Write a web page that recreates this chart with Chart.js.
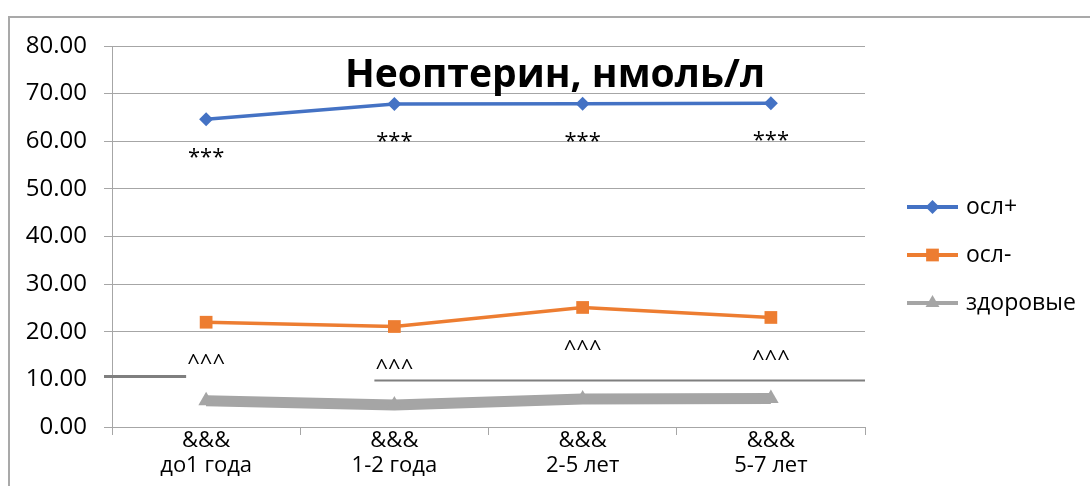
<!DOCTYPE html>
<html>
<head>
<meta charset="utf-8">
<script src="https://cdn.jsdelivr.net/npm/chart.js@4"></script>
<style>
  html, body { margin: 0; padding: 0; background: #fff; overflow: hidden; }
  #wrap { position: relative; width: 1090px; height: 486px; }
  #frame { position: absolute; left: 8px; top: 16px; width: 1100px; height: 500px;
           border: 2px solid #a9a9a9; box-sizing: border-box; }
  canvas { position: absolute; left: 0; top: 0; }
</style>
</head>
<body>
<div id="wrap">
  <div id="frame"></div>
  <canvas id="c" width="1090" height="486"></canvas>
</div>
<script>
// Age groups (two-line axis labels)
const categories = [
  ['&&&', 'до1 года'],
  ['&&&', '1-2 года'],
  ['&&&', '2-5 лет'],
  ['&&&', '5-7 лет']
];

// Series names and values, nmol/l
const seriesNames = ['осл+', 'осл-', 'здоровые'];
const oslPlus  = [64.6, 67.8, 67.9, 68.0];
const oslMinus = [22.0, 21.1, 25.1, 23.0];
const healthy  = [5.5, 4.6, 5.9, 6.0];

// Significance marks placed under the points
const plusMarks  = ['***', '***', '***', '***'];
const minusMarks = ['^^^', '^^^', '^^^', '^^^'];

// Value axis
const yMin = 0, yMax = 80, yStep = 10;

const chartTitle = 'Неоптерин, нмоль/л';

const FONT = '"Open Sans", "Noto Sans", sans-serif';
const colors = ['#4472C4', '#ED7D31', '#A5A5A5'];
const markerStyles = ['rectRot', 'rect', 'triangle'];

function marker(ctx, style, x, y, r, color) {
  ctx.save();
  ctx.fillStyle = color;
  ctx.beginPath();
  if (style === 'rectRot') {
    ctx.moveTo(x - r, y); ctx.lineTo(x, y - r); ctx.lineTo(x + r, y); ctx.lineTo(x, y + r);
  } else if (style === 'rect') {
    const s = r * Math.SQRT1_2;
    ctx.rect(x - s, y - s, 2 * s, 2 * s);
  } else {
    ctx.moveTo(x, y - r);
    ctx.lineTo(x + r * Math.sin(2 * Math.PI / 3), y - r * Math.cos(2 * Math.PI / 3));
    ctx.lineTo(x - r * Math.sin(2 * Math.PI / 3), y - r * Math.cos(2 * Math.PI / 3));
  }
  ctx.closePath();
  ctx.fill();
  ctx.restore();
}

// Dark reference strokes along the 10.00 level
const referenceLines = {
  id: 'referenceLines',
  beforeDatasetsDraw(chart) {
    const { ctx, chartArea, scales } = chart;
    const x = scales.x, y = scales.y;
    const y10 = y.getPixelForValue(10);
    ctx.save();
    ctx.strokeStyle = '#7f7f7f';
    ctx.lineWidth = 3;
    ctx.beginPath();
    ctx.moveTo(chartArea.left - 8, y10 - 3);
    ctx.lineTo(x.getPixelForValue(0) - 20, y10 - 3);
    ctx.stroke();
    ctx.lineWidth = 2;
    ctx.beginPath();
    ctx.moveTo(x.getPixelForValue(1) - 20, y10 + 1);
    ctx.lineTo(chartArea.right, y10 + 1);
    ctx.stroke();
    ctx.restore();
  }
};

// Title, significance marks and legend
const overlay = {
  id: 'overlay',
  afterDatasetsDraw(chart) {
    const { ctx, scales } = chart;
    const x = scales.x, y = scales.y;
    ctx.save();
    ctx.fillStyle = '#000';
    ctx.textAlign = 'center';
    ctx.textBaseline = 'middle';
    ctx.font = '22px ' + FONT;
    for (let i = 0; i < categories.length; i++) {
      const px = x.getPixelForValue(i);
      ctx.fillText(plusMarks[i], px, y.getPixelForValue(oslPlus[i]) + 38);
      ctx.fillText(minusMarks[i], px, y.getPixelForValue(oslMinus[i]) + 42);
    }
    ctx.font = 'bold 39px ' + FONT;
    ctx.textBaseline = 'alphabetic';
    ctx.fillText(chartTitle, 555, 87);

    // legend
    const rows = [207, 255, 303];
    const radii = [7, 9, 8];
    ctx.font = '23px ' + FONT;
    ctx.textAlign = 'left';
    ctx.textBaseline = 'middle';
    for (let i = 0; i < seriesNames.length; i++) {
      ctx.strokeStyle = colors[i];
      ctx.lineWidth = 4;
      ctx.beginPath();
      ctx.moveTo(907, rows[i]);
      ctx.lineTo(958, rows[i]);
      ctx.stroke();
      marker(ctx, markerStyles[i], 932.5, rows[i], radii[i], colors[i]);
      ctx.fillStyle = '#000';
      ctx.fillText(seriesNames[i], 966, rows[i]);
    }
    ctx.restore();
  }
};

const gridColor = '#a6a6a6';

new Chart(document.getElementById('c'), {
  type: 'line',
  data: {
    labels: categories,
    datasets: [
      { label: seriesNames[0], data: oslPlus, borderColor: colors[0], backgroundColor: colors[0],
        borderWidth: 3.5, pointStyle: 'rectRot', pointRadius: 7, pointBorderWidth: 0 },
      { label: seriesNames[1], data: oslMinus, borderColor: colors[1], backgroundColor: colors[1],
        borderWidth: 3.5, pointStyle: 'rect', pointRadius: 9, pointBorderWidth: 0 },
      { label: seriesNames[2], data: healthy, borderColor: colors[2], backgroundColor: colors[2],
        borderWidth: 11, pointStyle: 'triangle', pointRadius: 9, pointBorderWidth: 0 }
    ]
  },
  options: {
    responsive: false,
    animation: false,
    devicePixelRatio: 1,
    layout: { padding: { left: 0, top: 46, right: 225, bottom: 0 } },
    plugins: { legend: { display: false }, title: { display: false }, tooltip: { enabled: false } },
    elements: { line: { tension: 0 } },
    scales: {
      x: {
        offset: true,
        afterFit(s) { s.height = 59; },
        grid: { offset: true, drawOnChartArea: false, color: gridColor, tickLength: 8, lineWidth: 1 },
        border: { color: gridColor, width: 1 },
        ticks: { color: '#000', font: { family: FONT, size: 22, lineHeight: 1.1 }, padding: -6,
                 maxRotation: 0, autoSkip: false }
      },
      y: {
        min: yMin, max: yMax,
        afterFit(s) { s.width = 112; },
        grid: { color: c => (c.tick && c.tick.value === 10) ? 'rgba(0,0,0,0)' : gridColor,
                tickLength: 8, lineWidth: 1 },
        border: { color: gridColor, width: 1 },
        ticks: { stepSize: yStep, color: '#000', padding: 17,
                 font: { family: FONT, size: 24 },
                 callback: v => Number(v).toFixed(2) }
      }
    }
  },
  plugins: [referenceLines, overlay]
});
</script>
</body>
</html>
